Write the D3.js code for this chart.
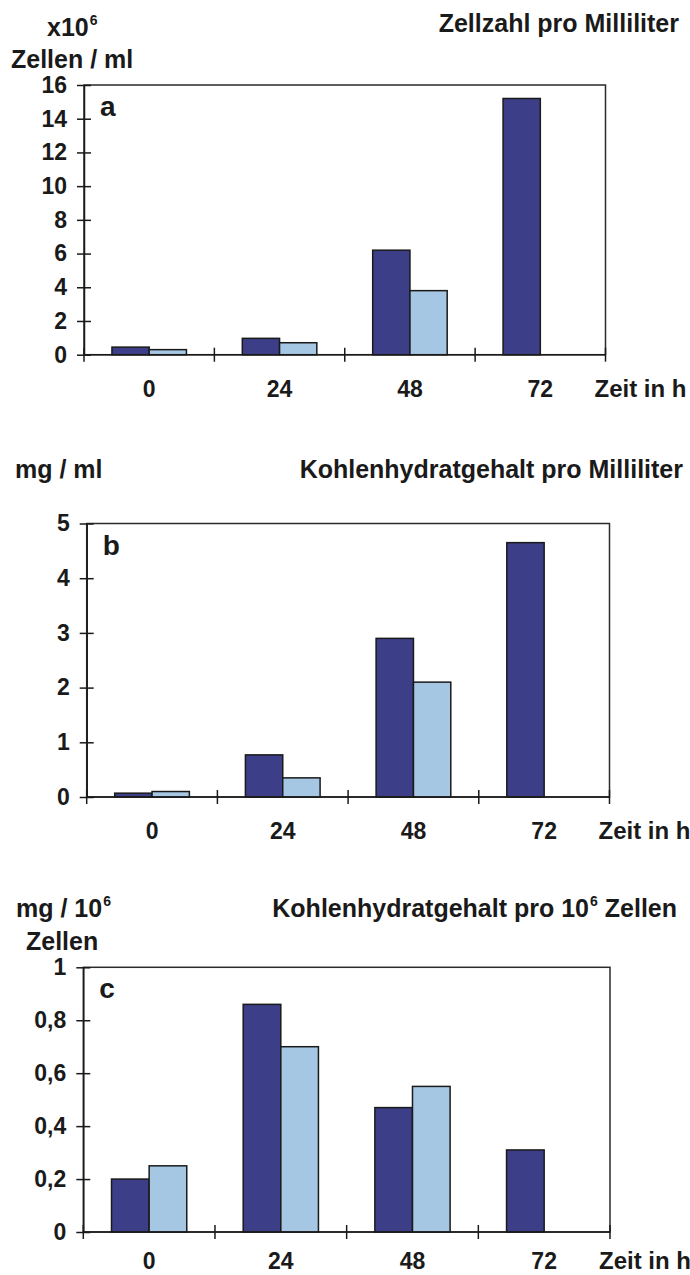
<!DOCTYPE html>
<html>
<head>
<meta charset="utf-8">
<script src="https://cdn.jsdelivr.net/npm/d3@7"></script>
<style>
  body { margin: 0; background: #fff; }
  svg text { font-family: 'Liberation Sans', Arial, sans-serif; font-weight: bold; fill: #1a1a1a; }
</style>
</head>
<body>
<svg id="chart" width="690" height="1275"></svg>
<script>
/* global d3 */

// data
const hours = ['0', '24', '48', '72'];
const seriesKeys = ['dark', 'light'];

const cellsDark = [0.45, 0.97, 6.2, 15.2];
const cellsLight = [0.3, 0.71, 3.8, null];

const carbDark = [0.07, 0.77, 2.9, 4.65];
const carbLight = [0.1, 0.35, 2.1, null];

const perCellDark = [0.2, 0.86, 0.47, 0.31];
const perCellLight = [0.25, 0.7, 0.55, null];

const ticksA = [0, 2, 4, 6, 8, 10, 12, 14, 16];
const ticksB = [0, 1, 2, 3, 4, 5];
const ticksC = [0, 0.2, 0.4, 0.6, 0.8, 1];

// colours
const COLORS = { dark: '#3c3f87', light: '#a5c7e3' };
const INK = '#1a1a1a';

const deLocale = d3.formatLocale({ decimal: ',', thousands: '.', grouping: [3], currency: ['', ' €'] });
const fmtDecimal = deLocale.format('.1f');
// whole numbers without a decimal, as in the original ("0", "0,2" ... "1")
const fmtC = (d) => (Number.isInteger(d) ? String(d) : fmtDecimal(d));

// panel layout
const panels = [
  {
    label: 'a', dark: cellsDark, light: cellsLight, max: 16, ticks: ticksA, fmt: d3.format('d'),
    left: 84, right: 605.5, top: 85, zero: 354.7, xLabelY: 397,
    unit: [[{ t: 'x10' }, { t: '6', sup: true }], [{ t: 'Zellen / ml' }]],
    unitX: [47, 11], unitY: [36, 68],
    title: [{ t: 'Zellzahl pro Milliliter' }], titleEnd: 679, titleY: 32,
  },
  {
    label: 'b', dark: carbDark, light: carbLight, max: 5, ticks: ticksB, fmt: d3.format('d'),
    left: 86.7, right: 609.5, top: 523.5, zero: 797, xLabelY: 839,
    unit: [[{ t: 'mg / ml' }]],
    unitX: [15], unitY: [478],
    title: [{ t: 'Kohlenhydratgehalt pro Milliliter' }], titleEnd: 683, titleY: 478,
  },
  {
    label: 'c', dark: perCellDark, light: perCellLight, max: 1, ticks: ticksC, fmt: fmtC,
    left: 83.3, right: 610, top: 967.3, zero: 1232, xLabelY: 1269,
    unit: [[{ t: 'mg / 10' }, { t: '6', sup: true }], [{ t: 'Zellen' }]],
    unitX: [16, 26], unitY: [917, 950],
    title: [{ t: 'Kohlenhydratgehalt pro 10' }, { t: '6', sup: true }, { t: ' Zellen' }], titleEnd: 677, titleY: 917,
  },
];

const $svg = d3.select('#chart');

// writes a text made of normal and superscript parts
function richText($g, parts, x, y, anchor) {
  const $t = $g.append('text')
    .attr('x', x)
    .attr('y', y)
    .attr('font-size', 25)
    .attr('text-anchor', anchor || 'start');
  let raised = false;
  parts.forEach((p) => {
    const $s = $t.append('tspan').text(p.t);
    if (p.sup && !raised) {
      $s.attr('font-size', 14).attr('dy', -11).attr('dx', 1);
      raised = true;
    } else if (!p.sup && raised) {
      $s.attr('dy', 11);
      raised = false;
    }
  });
  return $t;
}

function drawPanel(p) {
  const $g = $svg.append('g').attr('class', `panel panel-${p.label}`);

  const x0 = d3.scaleBand().domain(hours).range([p.left, p.right]);
  const x1 = d3.scaleBand().domain(seriesKeys).range([0, x0.bandwidth()])
    .paddingInner(0).paddingOuter(0.75);
  const y = d3.scaleLinear().domain([0, p.max]).range([p.zero, p.top]);

  // plot frame
  $g.append('rect')
    .attr('x', p.left)
    .attr('y', p.top)
    .attr('width', p.right - p.left)
    .attr('height', p.zero - p.top)
    .attr('fill', 'none')
    .attr('stroke', '#2a2a2a')
    .attr('stroke-width', 1.5);

  // bars
  const rows = [];
  hours.forEach((h, i) => {
    if (p.dark[i] != null) rows.push({ hour: h, key: 'dark', value: p.dark[i] });
    if (p.light[i] != null) rows.push({ hour: h, key: 'light', value: p.light[i] });
  });

  $g.append('g').attr('class', 'bars')
    .selectAll('rect')
    .data(rows)
    .join('rect')
    .attr('x', (d) => x0(d.hour) + x1(d.key))
    .attr('y', (d) => y(d.value))
    .attr('width', x1.bandwidth())
    .attr('height', (d) => y(0) - y(d.value))
    .attr('fill', (d) => COLORS[d.key])
    .attr('stroke', INK)
    .attr('stroke-width', 1.5);

  // y axis, ticks crossing the line
  const $y = $g.append('g')
    .attr('class', 'y-axis')
    .attr('transform', `translate(${p.left},0)`)
    .call(d3.axisLeft(y).tickValues(p.ticks).tickFormat(p.fmt)
      .tickSizeInner(7).tickSizeOuter(0).tickPadding(10));
  $y.select('.domain').attr('stroke', INK).attr('stroke-width', 1.5);
  $y.selectAll('.tick line').attr('x1', 7).attr('stroke', INK).attr('stroke-width', 1.5);
  $y.selectAll('.tick text')
    .attr('font-size', 23)
    .attr('fill', INK)
    .attr('font-family', "'Liberation Sans', Arial, sans-serif");

  // x axis: base line, ticks between the groups, hour labels
  const $x = $g.append('g').attr('class', 'x-axis');
  $x.append('line')
    .attr('x1', p.left).attr('x2', p.right)
    .attr('y1', y(0)).attr('y2', y(0))
    .attr('stroke', INK).attr('stroke-width', 1.5);
  const bounds = hours.map((h) => x0(h)).concat([x0.range()[1]]);
  $x.selectAll('.x-tick')
    .data(bounds)
    .join('line')
    .attr('class', 'x-tick')
    .attr('x1', (d) => d).attr('x2', (d) => d)
    .attr('y1', y(0) - 7).attr('y2', y(0) + 7)
    .attr('stroke', INK).attr('stroke-width', 1.5);
  $x.selectAll('.x-label')
    .data(hours)
    .join('text')
    .attr('class', 'x-label')
    .attr('x', (d) => x0(d) + x0.bandwidth() / 2)
    .attr('y', p.xLabelY)
    .attr('text-anchor', 'middle')
    .attr('font-size', 23)
    .text((d) => d);
  $x.append('text')
    .attr('x', p.right - 11)
    .attr('y', p.xLabelY)
    .attr('font-size', 24)
    .text('Zeit in h');

  // panel letter
  $g.append('text')
    .attr('x', p.left + 16)
    .attr('y', p.top + 31)
    .attr('font-size', 28)
    .text(p.label);

  // unit and title
  p.unit.forEach((parts, i) => richText($g, parts, p.unitX[i], p.unitY[i]));
  richText($g, p.title, p.titleEnd, p.titleY, 'end');
}

panels.forEach(drawPanel);
</script>
</body>
</html>
